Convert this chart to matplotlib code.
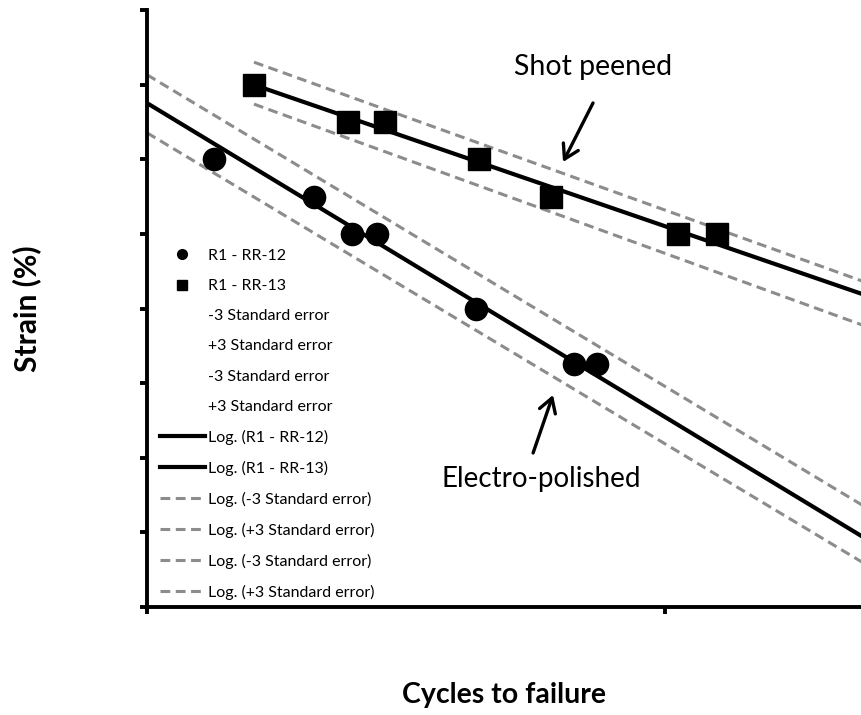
import numpy as np
import matplotlib
matplotlib.use("Agg")
import matplotlib.pyplot as plt
from matplotlib.lines import Line2D

plt.rcParams['font.family'] = ['Lato', 'DejaVu Sans']

# R1 - RR-12 (electro-polished)
ep_cycles = [13470, 21010, 24880, 27800, 43170, 66720, 73900]
ep_strain = [0.80, 0.75, 0.70, 0.70, 0.60, 0.525, 0.525]

# R1 - RR-13 (shot peened)
sp_cycles = [16090, 24430, 28810, 43740, 60260, 105900, 126000]
sp_strain = [0.90, 0.85, 0.85, 0.80, 0.75, 0.70, 0.70]

# log trend lines: strain = a*ln(N) + b
ep_fit = (-0.1827, 2.558)
ep_minus = (-0.1810, 2.5025)
ep_plus = (-0.1814, 2.584)
sp_fit = (-0.10367, 1.9038)
sp_minus = (-0.10948, 1.9343)
sp_plus = (-0.10849, 1.9809)

x_min, x_max = 1e4, 2.4e5
y_min, y_max = 0.2, 1.0

fig = plt.figure(figsize=(8.62, 7.15), dpi=100)
ax = fig.add_axes([147 / 862, 108 / 715, 715 / 862, 597 / 715])
ax.set_xscale('log')


def trend(coef, start):
    n = np.logspace(np.log10(start), np.log10(x_max), 50)
    return n, coef[0] * np.log(n) + coef[1]


dash = dict(color='#8c8c8c', lw=2.2, dashes=(3.2, 1.8))
solid = dict(color='black', lw=3.0)

for c in (ep_minus, ep_plus):
    ax.plot(*trend(c, x_min), **dash)
for c in (sp_minus, sp_plus):
    ax.plot(*trend(c, sp_cycles[0]), **dash)
ax.plot(*trend(ep_fit, x_min), **solid)
ax.plot(*trend(sp_fit, sp_cycles[0]), **solid)

ax.plot(ep_cycles, ep_strain, 'o', color='black', ms=16, zorder=5)
ax.plot(sp_cycles, sp_strain, 's', color='black', ms=16, zorder=5)

ax.set_xlim(x_min, x_max)
ax.set_ylim(y_min, y_max)
ax.set_xticks([1e4, 1e5])
ax.xaxis.set_minor_locator(matplotlib.ticker.NullLocator())
ax.set_yticks(np.arange(0.2, 1.01, 0.1))
ax.set_xticklabels([])
ax.set_yticklabels([])
for s in ('top', 'right'):
    ax.spines[s].set_visible(False)
for s in ('left', 'bottom'):
    ax.spines[s].set_linewidth(2.8)
ax.tick_params(direction='out', length=5, width=2.8)

ax.set_xlabel('Cycles to failure', fontsize=20.5, fontweight='bold')
ax.xaxis.label.set_va('center')
ax.xaxis.set_label_coords(0.5, -0.147)
ax.set_ylabel('Strain (%)', fontsize=21.5, fontweight='bold')
ax.yaxis.label.set_va('center')
ax.yaxis.set_label_coords(-0.168, 0.5)

arrow = dict(arrowstyle='->,head_length=0.5,head_width=0.3', lw=2.4,
             color='black', shrinkA=0, shrinkB=0, mutation_scale=20)
ax.annotate('', xy=(63550, 0.7963), xytext=(72610, 0.8754), arrowprops=arrow)
ax.text(72610, 0.9236, 'Shot peened', fontsize=20.5, ha='center', va='center')
ax.annotate('', xy=(60780, 0.4841), xytext=(55630, 0.4064), arrowprops=arrow)
ax.text(57640, 0.3715, 'Electro-polished', fontsize=20, ha='center', va='center')

handles = [
    Line2D([], [], ls='none', marker='o', color='black', ms=7),
    Line2D([], [], ls='none', marker='s', color='black', ms=7),
    Line2D([], [], ls='none'),
    Line2D([], [], ls='none'),
    Line2D([], [], ls='none'),
    Line2D([], [], ls='none'),
    Line2D([], [], **solid),
    Line2D([], [], **solid),
    Line2D([], [], **dash),
    Line2D([], [], **dash),
    Line2D([], [], **dash),
    Line2D([], [], **dash),
]
labels = [
    'R1 - RR-12', 'R1 - RR-13',
    '-3 Standard error', '+3 Standard error',
    '-3 Standard error', '+3 Standard error',
    'Log. (R1 - RR-12)', 'Log. (R1 - RR-13)',
    'Log. (-3 Standard error)', 'Log. (+3 Standard error)',
    'Log. (-3 Standard error)', 'Log. (+3 Standard error)',
]
ax.legend(handles, labels, loc='upper left', bbox_to_anchor=(0.018, 0.600),
          frameon=False, fontsize=11.5, handlelength=2.8, handletextpad=0.2,
          labelspacing=1.0, borderpad=0, borderaxespad=0, numpoints=1)

fig.savefig('out.png', dpi=100)
